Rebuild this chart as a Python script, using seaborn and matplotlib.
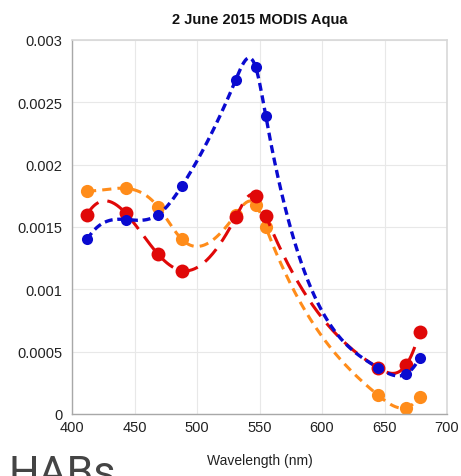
import numpy as np
import pandas as pd
import matplotlib
matplotlib.use("Agg")
import matplotlib.pyplot as plt
import seaborn as sns

wavelengths = [412, 443, 469, 488, 531, 547, 555, 645, 667, 678]
blue_vals = [0.00140, 0.00156, 0.00160, 0.00183, 0.00268, 0.00278, 0.00239, 0.00037, 0.00032, 0.00045]
red_vals = [0.00160, 0.00161, 0.00128, 0.00115, 0.00158, 0.00175, 0.00159, 0.00037, 0.00039, 0.00066]
orange_vals = [0.00179, 0.00181, 0.00166, 0.00140, 0.00160, 0.00168, 0.00150, 0.00015, 0.00005, 0.00014]
x_ticks = [400, 450, 500, 550, 600, 650, 700]
y_ticks = [0, 0.0005, 0.001, 0.0015, 0.002, 0.0025, 0.003]
y_ticklabels = ["0", "0.0005", "0.001", "0.0015", "0.002", "0.0025", "0.003"]
title = "2 June 2015 MODIS Aqua"
xlabel = "Wavelength (nm)"
slide_text = "HABs"


def spline_curve(x, y, n=400):
    """Not-a-knot cubic spline through the points (curve rendering only)."""
    x = np.asarray(x, float)
    y = np.asarray(y, float)
    k = len(x)
    h = np.diff(x)
    A = np.zeros((k, k))
    b = np.zeros(k)
    for i in range(1, k - 1):
        A[i, i - 1] = h[i - 1]
        A[i, i] = 2 * (h[i - 1] + h[i])
        A[i, i + 1] = h[i]
        b[i] = 6 * ((y[i + 1] - y[i]) / h[i] - (y[i] - y[i - 1]) / h[i - 1])
    A[0, 0] = -1 / h[0]
    A[0, 1] = 1 / h[0] + 1 / h[1]
    A[0, 2] = -1 / h[1]
    A[-1, -3] = -1 / h[-2]
    A[-1, -2] = 1 / h[-2] + 1 / h[-1]
    A[-1, -1] = -1 / h[-1]
    M = np.linalg.solve(A, b)
    xs = np.linspace(x[0], x[-1], n)
    idx = np.clip(np.searchsorted(x, xs) - 1, 0, k - 2)
    x0, x1 = x[idx], x[idx + 1]
    hh = x1 - x0
    t0 = x1 - xs
    t1 = xs - x0
    ys = (M[idx] * t0 ** 3 / (6 * hh) + M[idx + 1] * t1 ** 3 / (6 * hh)
          + (y[idx] / hh - M[idx] * hh / 6) * t0
          + (y[idx + 1] / hh - M[idx + 1] * hh / 6) * t1)
    return xs, ys


sns.set_theme(style="white")
plt.rcParams["font.family"] = ["Liberation Sans", "DejaVu Sans"]

fig = plt.figure(figsize=(4.61, 4.77), dpi=100)
ax = fig.add_axes([72 / 461, 1 - 415 / 477, (447 - 72) / 461, (415 - 41) / 477])

series = [
    (orange_vals, "#ff8c1a", (3.0, 2.0), 9.5, 2.2),
    (red_vals, "#e00808", (5.5, 3.0), 10, 2.2),
    (blue_vals, "#0a0ad0", (2.4, 1.4), 8, 2.4),
]
for vals, color, dashes, ms, lw in series:
    xs, ys = spline_curve(wavelengths, vals)
    sns.lineplot(x=xs, y=ys, ax=ax, color=color, linewidth=lw, dashes=False)
    ax.lines[-1].set_dashes(dashes)
    ax.plot(wavelengths, vals, linestyle="none", marker="o", markersize=ms,
            color=color, markeredgewidth=0)

ax.set_xlim(400, 700)
ax.set_ylim(0, 0.003)
ax.set_xticks(x_ticks)
ax.set_yticks(y_ticks)
ax.set_yticklabels(y_ticklabels)
ax.grid(True, color="#e8e8e8", linewidth=0.8)
ax.set_axisbelow(True)
ax.tick_params(axis="both", length=0, labelsize=10.5, colors="#222222", pad=4)
ax.tick_params(axis="y", pad=7)
for side in ["top", "right"]:
    ax.spines[side].set_color("#d8d8d8")
    ax.spines[side].set_linewidth(1.2)
for side in ["left", "bottom"]:
    ax.spines[side].set_color("#a8a8a8")
    ax.spines[side].set_linewidth(1.0)

ax.set_title(title, fontsize=10.5, fontweight="bold", color="#111111", pad=12)
ax.set_xlabel(xlabel, fontsize=10, color="#222222", labelpad=14)

fig.text(8 / 461, 1 - 486 / 477, slide_text, fontsize=31, color="#444444",
         family=["Roboto", "DejaVu Sans"], fontweight="normal", ha="left", va="baseline")

fig.savefig("out.png", dpi=100)
